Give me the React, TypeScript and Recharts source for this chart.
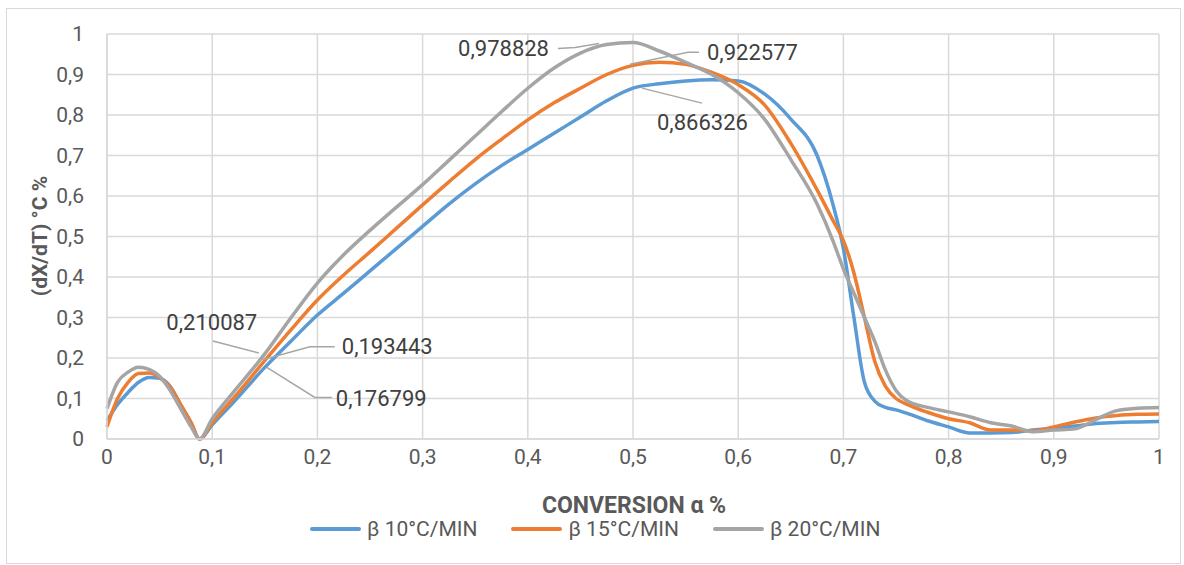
import { LineChart, Line, XAxis, YAxis, CartesianGrid, LabelList } from "recharts";

// conversion α (shared x grid for the three heating rates)
const CONVERSION = [
  0, 0.01, 0.02, 0.03, 0.04, 0.05, 0.06, 0.07, 0.08, 0.088, 0.1, 0.12, 0.15,
  0.175, 0.2, 0.225, 0.25, 0.275, 0.3, 0.325, 0.35, 0.375, 0.4, 0.425, 0.45, 0.475, 0.5,
  0.525, 0.55, 0.575, 0.6, 0.625, 0.65, 0.675,
  0.69, 0.7, 0.71, 0.72, 0.73, 0.74, 0.75, 0.76,
  0.78, 0.8, 0.82, 0.84, 0.86, 0.88, 0.9, 0.92, 0.94, 0.96, 0.98, 1,
];

// dX/dT for β = 10 °C/min
const RATE_10 = [
  0.045, 0.085, 0.115, 0.14, 0.152, 0.15, 0.13, 0.085, 0.04, 0, 0.035, 0.09, 0.176799,
  0.242, 0.306, 0.36, 0.415, 0.47, 0.525, 0.58, 0.63, 0.675, 0.715, 0.755, 0.795, 0.835, 0.866326,
  0.877, 0.884, 0.887, 0.884, 0.852, 0.79, 0.7,
  0.58, 0.47, 0.3, 0.14, 0.093, 0.078, 0.072, 0.064,
  0.045, 0.03, 0.015, 0.015, 0.016, 0.022, 0.027, 0.032, 0.038, 0.041, 0.042, 0.043,
];

// dX/dT for β = 15 °C/min
const RATE_15 = [
  0.03, 0.1, 0.14, 0.162, 0.163, 0.152, 0.128, 0.085, 0.04, 0, 0.04, 0.1, 0.193443,
  0.27, 0.343, 0.405, 0.462, 0.52, 0.578, 0.635, 0.69, 0.74, 0.788, 0.83, 0.866, 0.9, 0.922577,
  0.93, 0.925, 0.905, 0.875, 0.825, 0.73, 0.615,
  0.54, 0.49, 0.41, 0.3, 0.19, 0.13, 0.1, 0.086,
  0.066, 0.05, 0.04, 0.022, 0.022, 0.02, 0.03, 0.042, 0.052, 0.058, 0.061, 0.062,
];

// dX/dT for β = 20 °C/min
const RATE_20 = [
  0.075, 0.14, 0.165, 0.177, 0.172, 0.155, 0.12, 0.075, 0.03, 0, 0.05, 0.115, 0.210087,
  0.3, 0.385, 0.455, 0.515, 0.572, 0.628, 0.688, 0.748, 0.808, 0.866, 0.916, 0.953, 0.974, 0.978828,
  0.958, 0.93, 0.9, 0.855, 0.79, 0.69, 0.58,
  0.49, 0.42, 0.36, 0.3, 0.24, 0.17, 0.12, 0.095,
  0.078, 0.067, 0.055, 0.04, 0.032, 0.018, 0.022, 0.025, 0.048, 0.07, 0.076, 0.078,
];

const AXIS_TICKS = [0, 0.1, 0.2, 0.3, 0.4, 0.5, 0.6, 0.7, 0.8, 0.9, 1];
const LABELLED_AT = [0.15, 0.5];

const rows = CONVERSION.map((x, i) => ({
  x,
  b10: RATE_10[i],
  b15: RATE_15[i],
  b20: RATE_20[i],
}));

const fmt = (v: number) => (v === 0 || v === 1 ? String(v) : v.toFixed(1).replace(".", ","));
const fmtLabel = (v: number) => String(v).replace(".", ",");

type Placement = { anchor: "start" | "middle" | "end"; dx: number; dy: number; leader: [number, number][] };

// where each value label sits relative to its point, with its leader line
const PLACEMENTS: Record<string, Record<number, Placement>> = {
  b10: {
    0.15: { anchor: "start", dx: 71, dy: 31, leader: [[2, 0], [50, 30], [67, 30]] },
    0.5: { anchor: "start", dx: 24, dy: 34, leader: [[9, 0], [69, 15]] },
  },
  b15: {
    0.15: { anchor: "start", dx: 77, dy: -14, leader: [[-2, -1], [45, -14], [70, -14]] },
    0.5: { anchor: "start", dx: 74, dy: -13, leader: [[-3, -1], [55, -13], [66, -13]] },
  },
  b20: {
    0.15: { anchor: "middle", dx: -53, dy: -31, leader: [[-52, -13], [-6, -1]] },
    0.5: { anchor: "end", dx: -84, dy: 6, leader: [[-75, 6], [-58, 5], [-34, 1]] },
  },
};

const makeLabel = (key: string) => (props: any) => {
  const { x, y, value, index } = props;
  const at = CONVERSION[index];
  if (!LABELLED_AT.includes(at)) return null;
  const p = PLACEMENTS[key][at];
  const d = p.leader.map(([lx, ly], i) => `${i ? "L" : "M"}${x + lx},${y + ly}`).join(" ");
  return (
    <g key={`${key}-${index}`}>
      <path d={d} fill="none" stroke="#a6a6a6" strokeWidth={1.5} />
      <text
        x={x + p.dx}
        y={y + p.dy}
        textAnchor={p.anchor}
        dominantBaseline="central"
        fontSize={22}
        fontFamily="Roboto"
        fill="#404040"
      >
        {fmtLabel(value)}
      </text>
    </g>
  );
};

const SERIES = [
  { key: "b10", name: "β 10°C/MIN", color: "#5b9bd5" },
  { key: "b15", name: "β 15°C/MIN", color: "#ed7d31" },
  { key: "b20", name: "β 20°C/MIN", color: "#a5a5a5" },
];

export default function App() {
  return (
    <div style={{ position: "absolute", left: 0, top: 0, width: 1184, height: 565, background: "#fff", fontFamily: "Roboto" }}>
      <div style={{ position: "absolute", left: 6, top: 8, width: 1173, height: 554, border: "1px solid #d9d9d9" }} />
      <LineChart
        width={1184}
        height={565}
        data={rows}
        margin={{ top: 34, right: 25, bottom: 96, left: 0 }}
        style={{ position: "absolute", left: 0, top: 0 }}
      >
        <CartesianGrid stroke="#d9d9d9" strokeWidth={1.5} />
        <XAxis
          dataKey="x"
          type="number"
          domain={[0, 1]}
          ticks={AXIS_TICKS}
          tickFormatter={fmt}
          interval={0}
          height={30}
          stroke="#d9d9d9"
          strokeWidth={1.5}
          tickLine={false}
          tickMargin={4}
          tick={{ fill: "#595959", fontSize: 21, fontFamily: "Roboto" }}
          label={{
            content: () => (
              <text x={634} y={505} textAnchor="middle" dominantBaseline="central" fontSize={23} fontWeight="bold" fontFamily="Roboto" fill="#595959">
                CONVERSION α %
              </text>
            ),
          }}
        />
        <YAxis
          type="number"
          domain={[0, 1]}
          ticks={AXIS_TICKS}
          tickFormatter={fmt}
          interval={0}
          width={107}
          stroke="#d9d9d9"
          strokeWidth={1.5}
          tickLine={false}
          tickMargin={17}
          tick={{ fill: "#595959", fontSize: 21, fontFamily: "Roboto" }}
          label={{
            content: () => (
              <text
                transform="translate(40,236) rotate(-90)"
                textAnchor="middle"
                dominantBaseline="central"
                fontSize={21}
                fontWeight="bold"
                fontFamily="Roboto"
                fill="#595959"
              >
                (dX/dT) °C %
              </text>
            ),
          }}
        />
        {SERIES.map((s) => (
          <Line
            key={s.key}
            type="monotone"
            dataKey={s.key}
            name={s.name}
            stroke={s.color}
            strokeWidth={3.5}
            dot={false}
            isAnimationActive={false}
          >
            <LabelList dataKey={s.key} content={makeLabel(s.key)} />
          </Line>
        ))}
      </LineChart>
      <div style={{ position: "absolute", left: 310, top: 517, display: "flex", alignItems: "center", gap: 34 }}>
        {SERIES.map((s) => (
          <div key={s.key} style={{ display: "flex", alignItems: "center", gap: 6 }}>
            <span style={{ display: "inline-block", width: 51, height: 4, borderRadius: 2, background: s.color }} />
            <span style={{ fontSize: 21, color: "#595959", lineHeight: "24px" }}>{s.name}</span>
          </div>
        ))}
      </div>
    </div>
  );
}
